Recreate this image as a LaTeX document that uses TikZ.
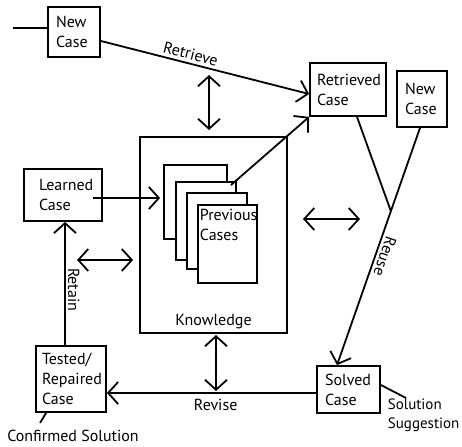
\documentclass[tikz,border=0pt]{standalone}
\usepackage{fontspec}
\setmainfont{PT Sans}
\usetikzlibrary{arrows.meta,calc}

\begin{document}
\begin{tikzpicture}[x=1pt,y=-1pt,line width=1.8pt,
  >={Straight Barb[length=10pt,width=22pt]},
  txt/.style={font=\fontsize{16}{20}\selectfont},
  casebox/.style={draw,fill=white,align=left,txt,inner ysep=0pt},
  sheet/.style={draw,fill=white,inner sep=0pt},
  lbl/.style={txt,inner sep=2pt},
]
\useasboundingbox (0,0) rectangle (462,446);

% knowledge store with the stack of previous cases
\node[draw,minimum width=147pt,minimum height=196pt,inner sep=0pt] (know) at (213.5,235) {};
\node[lbl] (klabel) at (213.5,322) {Knowledge};
\node[sheet,minimum width=63pt,minimum height=74pt] (sheet1) at (195.5,202) {};
\node[sheet,minimum width=60pt,minimum height=78pt] (sheet2) at (206,221) {};
\node[sheet,minimum width=60pt,minimum height=76pt] (sheet3) at (217,231) {};
\node[sheet,minimum width=59pt,minimum height=78pt] (sheet4) at (227.5,244) {};
\node[lbl,anchor=north west,align=left,inner sep=1pt] (prevtxt) at (198,207) {Previous\\Cases};

% case boxes
\node[casebox,text width=36pt,inner xsep=8pt,minimum height=50pt] (newcase) at (74,32) {New\\Case};
\node[casebox,text width=62pt,inner xsep=7pt,minimum height=53pt] (retrieved) at (348,89.5) {Retrieved\\Case};
\node[casebox,text width=34pt,inner xsep=8pt,minimum height=56pt] (newcase2) at (422,99) {New\\Case};
\node[casebox,text width=48pt,inner xsep=15pt,minimum height=52pt] (learned) at (63,195) {Learned\\Case};
\node[casebox,text width=58pt,inner xsep=6pt,minimum height=66pt] (tested) at (71,379) {Tested/\\Repaired\\Case};
\node[casebox,text width=47pt,inner xsep=8pt,minimum height=47pt] (solved) at (348.5,389.5) {Solved\\Case};

% free labels
\node[lbl,anchor=north west,align=left,font=\fontsize{15}{19}\selectfont] (sugg) at (385,396) {Solution\\Suggestion};
\node[lbl] (confirmed) at (73,436) {Confirmed Solution};

% incoming case and retrieval
\coordinate (inlet) at (13,28);
\draw (inlet) -- (inlet -| newcase.west);
\draw[->] ($(newcase.east)+(0,9)$) -- node[lbl,pos=0.42,sloped,above=1pt] {Retrieve} ($(retrieved.west)+(0,4.5)$);
\draw[->] ($(sheet2.north east)+(-6,4)$) -- (retrieved.south west);

% exchanges with the knowledge store
\coordinate (kt1) at (209,75);  \coordinate (kt2) at (209,130);
\coordinate (kr1) at (303,219); \coordinate (kr2) at (360,219);
\coordinate (kl1) at (77,260);  \coordinate (kl2) at (133,260);
\coordinate (kb1) at (216,335); \coordinate (kb2) at (216,391);
\draw[<->] (kt1) -- (kt2);
\draw[<->] (kr1) -- (kr2);
\draw[<->] (kl1) -- (kl2);
\draw[<->] (kb1) -- (kb2);

% learned case into the store
\draw[->] ($(learned.east)+(-10,3)$) -- ($(sheet1.west)+(-3,-4)$);

% reuse
\coordinate (rus) at ($(newcase2.south)+(-2,0)$);
\coordinate (rue) at ($(solved.north)+(-11.5,0)$);
\path (rus) -- (rue) coordinate[pos=0.351] (vpt);
\draw[->] (rus) -- node[lbl,pos=0.53,rotate=-109,anchor=south,inner sep=3pt] {Reuse} (rue);
\draw ($(retrieved.south)+(9,0)$) -- (vpt);

% revise and retain
\coordinate (rvs) at ($(solved.west)+(0,3.5)$);
\coordinate (rve) at (rvs -| tested.east);
\draw[->] (rvs) -- node[lbl,pos=0.48,below=3pt] {Revise} (rve);
\coordinate (rts) at ($(tested.north)+(-6,0)$);
\coordinate (rte) at (rts |- learned.south);
\draw[->] (rts) -- node[lbl,pos=0.45,rotate=-90,anchor=south] {Retain} (rte);

% solution pointers
\coordinate (suggs) at ($(solved.east)+(0,-4.5)$);
\coordinate (suggtip) at (406,398);
\draw (suggs) -- (suggtip);
\draw ($(tested.south west)+(11,0)$) -- ($(tested.south west)+(5,10)$);
\end{tikzpicture}
\end{document}
